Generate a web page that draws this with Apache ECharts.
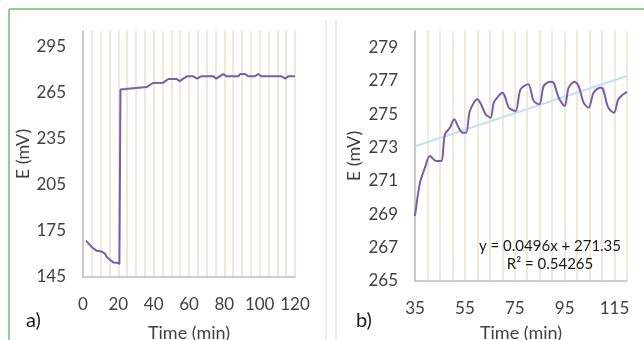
<!DOCTYPE html>
<html>
<head>
<meta charset="utf-8">
<script src="https://cdn.jsdelivr.net/npm/echarts@6/dist/echarts.min.js"></script>
<style>
  html, body { margin: 0; padding: 0; background: #fff; }
  #chart { width: 644px; height: 340px; }
</style>
</head>
<body>
<div id="chart"></div>
<script>
// Panel a): potential over the full run (0-120 min)
const timeA = [1.7, 3, 4.9, 7.8, 10.6, 12.5, 13.4, 15.3, 17.1, 18.1, 19.1, 20, 20.6,
  21.2, 24, 25, 36, 39.6, 45.4, 48.3, 53, 54.7, 58.7, 62.4, 64.5, 66.8, 73.8, 75.4,
  77.3, 79.4, 81.3, 87.9, 88.9, 91.7, 93.6, 97.3, 99.2, 101, 112.4, 114.5, 116.2, 120];
const eA = [168.7, 167, 164.5, 162, 161.6, 160.1, 158, 156.2, 154.5, 153.6, 154.3, 153.4, 153.5,
  267, 267.2, 268.5, 268.5, 271.2, 271.4, 273.8, 273.8, 272.4, 275.5, 275.5, 274, 275.5, 275.5, 274,
  275.5, 277, 275.5, 275.5, 277, 277, 275.5, 275.5, 277, 275.5, 275.5, 274, 275.5, 275.5];

// Panel b): detail from 35 min onward
const timeB = [35, 37, 39, 41, 43.5, 45.5, 47, 49, 50.7, 52.5, 54, 55.5, 57, 60, 61.5, 63.3,
  65.3, 66.6, 68.5, 70, 71, 72.6, 75.3, 77.3, 80.4, 82.6, 84.9, 86.6, 89.3, 90.6, 92.6, 95,
  96.6, 99, 100.6, 102.6, 104.6, 106.6, 109.2, 110.3, 112.5, 114.8, 116.5, 118.5, 120];
const eB = [268.9, 270.9, 271.8, 272.5, 272.2, 272.2, 273.8, 274.2, 274.7, 274.2, 273.9, 273.9,
  275.2, 275.9, 275.6, 275.0, 274.8, 275.7, 276.1, 276.3, 276.1, 275.4, 275.2, 276.5, 276.8,
  275.8, 275.6, 276.7, 276.95, 276.9, 276.0, 275.5, 276.6, 276.95, 276.7, 275.7, 275.4, 276.3,
  276.6, 276.55, 275.4, 275.1, 275.9, 276.2, 276.35];

// Linear fit reported for panel b)
const fitSlope = 0.0496;
const fitIntercept = 271.35;
const fitR2 = '0.54265';
const fitRange = [35, 120];

const ticksA_x = [0, 20, 40, 60, 80, 100, 120];
const ticksA_y = [145, 175, 205, 235, 265, 295];
const ticksB_x = [35, 55, 75, 95, 115];
const ticksB_y = [265, 267, 269, 271, 273, 275, 277, 279];

const FONT = 'Lato';
const TXT = '#404040';
const PURPLE = '#7a5ca8';
const GRIDLINE = '#eee9d8';
const AXIS = '#bfbfbf';

const pairs = (xs, ys) => xs.map((x, i) => [x, ys[i]]);
const fitLine = fitRange.map(x => [x, fitIntercept + fitSlope * x]);

function xAxisCfg(idx, min, max, labels, gap) {
  return {
    type: 'value', gridIndex: idx, min: min, max: max, interval: 5,
    axisLine: { show: true, lineStyle: { color: AXIS, width: 1.5 } },
    axisTick: { show: false },
    axisLabel: {
      color: TXT, fontFamily: FONT, fontSize: 17, margin: 19,
      formatter: v => labels.includes(v) ? String(v) : ''
    },
    splitLine: { show: true, lineStyle: { color: GRIDLINE, width: 2 } },
    name: 'Time (min)', nameLocation: 'middle', nameGap: gap,
    nameTextStyle: { color: TXT, fontFamily: FONT, fontSize: 18 }
  };
}
function yAxisCfg(idx, min, max, interval, labels, gap) {
  return {
    type: 'value', gridIndex: idx, min: min, max: max, interval: interval,
    axisLine: { show: true, lineStyle: { color: AXIS, width: 1.5 } },
    axisTick: { show: false },
    axisLabel: {
      color: TXT, fontFamily: FONT, fontSize: 17, margin: 17, padding: [5, 0, 0, 0],
      formatter: v => labels.includes(v) ? String(v) : ''
    },
    splitLine: { show: false },
    name: 'E (mV)', nameLocation: 'middle', nameRotate: 90, nameGap: gap,
    nameTextStyle: { color: TXT, fontFamily: FONT, fontSize: 18 }
  };
}

const chart = echarts.init(document.getElementById('chart'), null, { renderer: 'canvas' });
chart.setOption({
  animation: false,
  backgroundColor: '#ffffff',
  grid: [
    { left: 83, top: 31, width: 212, height: 246, containLabel: false, outerBoundsMode: 'none' },
    { left: 415, top: 31, width: 212, height: 250, containLabel: false, outerBoundsMode: 'none' }
  ],
  xAxis: [
    xAxisCfg(0, 0, 120, ticksA_x, 47),
    xAxisCfg(1, 35, 120, ticksB_x, 43)
  ],
  yAxis: [
    yAxisCfg(0, 145, 305, 30, ticksA_y, 50),
    yAxisCfg(1, 265, 280, 2, ticksB_y, 52)
  ],
  series: [
    {
      type: 'line', xAxisIndex: 0, yAxisIndex: 0, data: pairs(timeA, eA),
      showSymbol: false, lineStyle: { color: PURPLE, width: 2 }
    },
    {
      type: 'line', xAxisIndex: 1, yAxisIndex: 1, data: fitLine,
      showSymbol: false, lineStyle: { color: '#bfe3f2', width: 2 }, z: 1
    },
    {
      type: 'line', xAxisIndex: 1, yAxisIndex: 1, data: pairs(timeB, eB),
      showSymbol: false, smooth: 0.3, lineStyle: { color: PURPLE, width: 2 }, z: 3
    }
  ],
  graphic: [
    // outer frame
    { type: 'line', z: 100, shape: { x1: 9, y1: 9, x2: 644, y2: 9 }, style: { stroke: '#6cbf6c', lineWidth: 1.5 } },
    { type: 'line', z: 100, shape: { x1: 9, y1: 9, x2: 9, y2: 340 }, style: { stroke: '#6cbf6c', lineWidth: 1.5 } },
    // panel separators
    { type: 'line', z: 100, shape: { x1: 326, y1: 20, x2: 326, y2: 340 }, style: { stroke: '#d9d9d9', lineWidth: 1 } },
    { type: 'line', z: 100, shape: { x1: 336, y1: 20, x2: 336, y2: 340 }, style: { stroke: '#d9d9d9', lineWidth: 1 } },
    { type: 'text', z: 100, left: 26, top: 311, style: { text: 'a)', font: '20px ' + FONT, fill: '#1a1a1a' } },
    { type: 'text', z: 100, left: 356, top: 311, style: { text: 'b)', font: '20px ' + FONT, fill: '#1a1a1a' } },
    {
      type: 'text', z: 100, x: 550, y: 246,
      style: {
        text: 'y = ' + fitSlope + 'x + ' + fitIntercept, font: '15px ' + FONT,
        fill: '#1a1a1a', align: 'center', verticalAlign: 'middle'
      }
    },
    {
      type: 'text', z: 100, x: 550, y: 264,
      style: {
        text: 'R² = ' + fitR2, font: '15px ' + FONT,
        fill: '#1a1a1a', align: 'center', verticalAlign: 'middle'
      }
    }
  ]
});
</script>
</body>
</html>
